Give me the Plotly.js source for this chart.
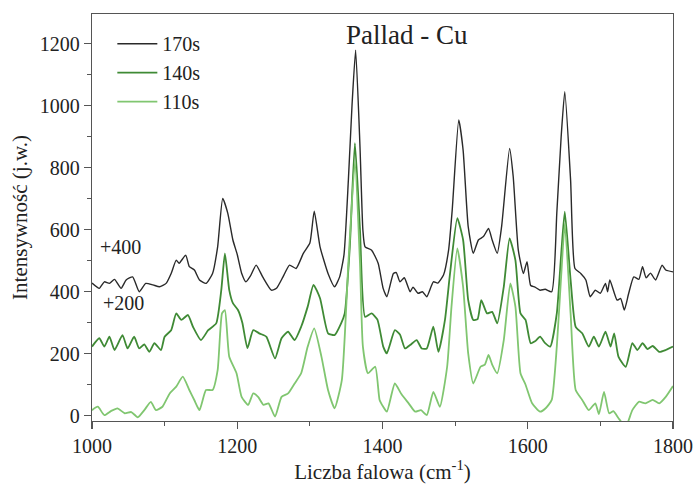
<!DOCTYPE html>
<html>
<head>
<meta charset="utf-8">
<script src="https://cdn.plot.ly/plotly-3.0.1.min.js"></script>
<style>html,body{margin:0;padding:0;background:#fff;}#chart{width:697px;height:487px;}</style>
</head>
<body>
<div id="chart"></div>
<script>
// 170s spectrum (displayed with +400 offset)
const x170 = [1000,1010,1017,1024,1031,1040,1047,1056,1065,1074,1084,1093,1102,1109,1116,1120,1129,1134,1141,1148,1157,1166,1173,1180,1187,1194,1200,1206,1212,1218,1226,1235,1247,1254,1263,1272,1281,1291,1300,1306,1314,1325,1334,1341,1347,1353,1358,1363,1369,1373,1376,1385,1394,1401,1406,1415,1419,1424,1430,1438,1442,1449,1455,1461,1470,1476,1484,1491,1496,1505,1511,1518,1525,1532,1539,1546,1551,1558,1564,1575,1580,1587,1594,1599,1604,1610,1617,1624,1633,1640,1646,1651,1659,1665,1673,1680,1686,1693,1700,1707,1710,1713,1723,1728,1733,1739,1746,1753,1758,1763,1769,1776,1785,1790,1800];
const y170 = [428,411,432,427,440,411,438,448,400,427,422,416,427,459,502,492,518,481,470,438,427,459,545,701,653,567,520,460,432,450,486,448,405,411,448,486,475,524,557,660,545,459,416,448,520,760,1000,1179,868,599,545,534,492,410,384,459,462,432,445,400,415,395,400,384,432,428,454,534,664,954,857,610,524,567,578,604,567,524,610,862,771,534,459,497,420,415,405,408,400,653,900,1045,760,475,459,438,384,405,395,427,400,438,373,378,341,395,448,440,481,445,460,438,486,470,464];

// 140s spectrum (displayed with +200 offset)
const x140 = [1000,1010,1017,1024,1031,1042,1049,1058,1065,1072,1079,1086,1095,1100,1109,1116,1123,1132,1139,1150,1160,1171,1178,1183,1189,1194,1201,1207,1214,1222,1231,1240,1252,1261,1270,1279,1288,1297,1305,1314,1325,1334,1343,1348,1355,1362,1369,1376,1385,1393,1401,1406,1417,1424,1431,1438,1447,1454,1461,1470,1477,1486,1493,1503,1511,1518,1525,1531,1536,1544,1551,1558,1567,1575,1583,1590,1597,1604,1610,1617,1624,1631,1640,1646,1651,1659,1666,1675,1684,1691,1698,1707,1714,1719,1725,1735,1744,1751,1758,1765,1772,1781,1790,1800];
const y140 = [223,250,223,255,212,260,217,255,217,230,206,234,212,255,276,330,309,325,287,244,276,298,405,524,405,363,341,300,218,276,265,255,185,250,271,244,287,352,422,379,266,260,298,330,545,879,600,319,330,310,223,201,276,262,217,228,244,217,217,287,206,309,459,637,567,373,309,312,373,330,335,298,416,572,502,330,309,234,240,255,234,223,330,520,658,438,287,266,223,255,223,271,223,266,190,158,234,212,234,215,225,206,212,223];

// 110s spectrum (no offset)
const x110 = [1000,1008,1017,1026,1035,1045,1054,1063,1072,1081,1088,1097,1107,1116,1125,1134,1141,1148,1157,1166,1173,1179,1183,1189,1199,1206,1215,1222,1229,1236,1243,1252,1261,1270,1279,1288,1297,1306,1316,1325,1334,1344,1353,1362,1369,1373,1380,1390,1396,1401,1406,1417,1426,1436,1445,1453,1461,1470,1479,1489,1495,1503,1511,1518,1525,1535,1541,1546,1551,1558,1567,1576,1583,1590,1597,1606,1617,1625,1633,1640,1646,1651,1659,1666,1675,1684,1693,1698,1705,1712,1718,1725,1735,1744,1753,1762,1772,1781,1790,1800];
const y110 = [18,29,2,15,24,8,12,-5,18,45,18,29,72,94,126,83,50,18,83,83,147,330,341,190,137,61,35,72,60,35,40,-3,61,72,104,137,223,282,190,83,24,115,492,820,492,223,137,158,51,29,13,104,70,40,13,18,2,77,29,158,352,540,416,201,104,158,165,196,165,137,244,427,352,137,100,40,13,25,51,223,450,620,330,83,51,18,40,5,77,8,15,-8,-35,18,45,40,51,40,61,96];

const seriesNames = ['170s','140s','110s'];
const offsetLabels = ['+400','+200'];
const xTicks = [1000,1200,1400,1600,1800];
const yTicks = [0,200,400,600,800,1000,1200];

const serif = 'Liberation Serif, Times New Roman, serif';
const traces = [
  {x:x170, y:y170, name:seriesNames[0], mode:'lines', line:{color:'#2a2a2a', width:1.4, shape:'spline', smoothing:0.5}},
  {x:x140, y:y140, name:seriesNames[1], mode:'lines', line:{color:'#3f8a35', width:1.8, shape:'spline', smoothing:0.5}},
  {x:x110, y:y110, name:seriesNames[2], mode:'lines', line:{color:'#80c670', width:1.8, shape:'spline', smoothing:0.5}}
];

const axisCommon = {
  showgrid:false, zeroline:false, showline:true, mirror:true,
  linecolor:'#555', linewidth:1.2, ticks:'outside', ticklen:7, tickwidth:1.2, tickcolor:'#555',
  tickfont:{family:serif, size:20, color:'#222'}
};

const layout = {
  width:697, height:487,
  margin:{l:92, r:24, t:14, b:66},
  paper_bgcolor:'#fff', plot_bgcolor:'#fff',
  showlegend:true,
  legend:{x:0.035, y:0.975, xanchor:'left', yanchor:'top', bgcolor:'rgba(0,0,0,0)',
          font:{family:serif, size:20, color:'#222'}, tracegroupgap:0, itemwidth:40},
  xaxis:Object.assign({}, axisCommon, {
    range:[1000,1800], tickvals:xTicks, ticktext:xTicks.map(String),
    minor:{dtick:100, ticklen:4, tickcolor:'#555', ticks:'outside'},
    title:{text:'Liczba falowa (cm<sup>-1</sup>)', font:{family:serif, size:21, color:'#222'}, standoff:8}
  }),
  yaxis:Object.assign({}, axisCommon, {
    range:[-17,1296], tickvals:yTicks, ticktext:yTicks.map(String),
    minor:{dtick:100, ticklen:4, tickcolor:'#555', ticks:'outside'},
    title:{text:'Intensywność (j.w.)', font:{family:serif, size:21, color:'#222'}, standoff:6}
  }),
  annotations:[
    {x:1434, y:1228, xref:'x', yref:'y', text:'Pallad - Cu', showarrow:false,
     font:{family:serif, size:27, color:'#222'}},
    {x:1039, y:544, xref:'x', yref:'y', text:offsetLabels[0], showarrow:false,
     font:{family:serif, size:20, color:'#222'}},
    {x:1044, y:363, xref:'x', yref:'y', text:offsetLabels[1], showarrow:false,
     font:{family:serif, size:20, color:'#222'}}
  ]
};

Plotly.newPlot('chart', traces, layout, {displayModeBar:false, staticPlot:true});
</script>
</body>
</html>
